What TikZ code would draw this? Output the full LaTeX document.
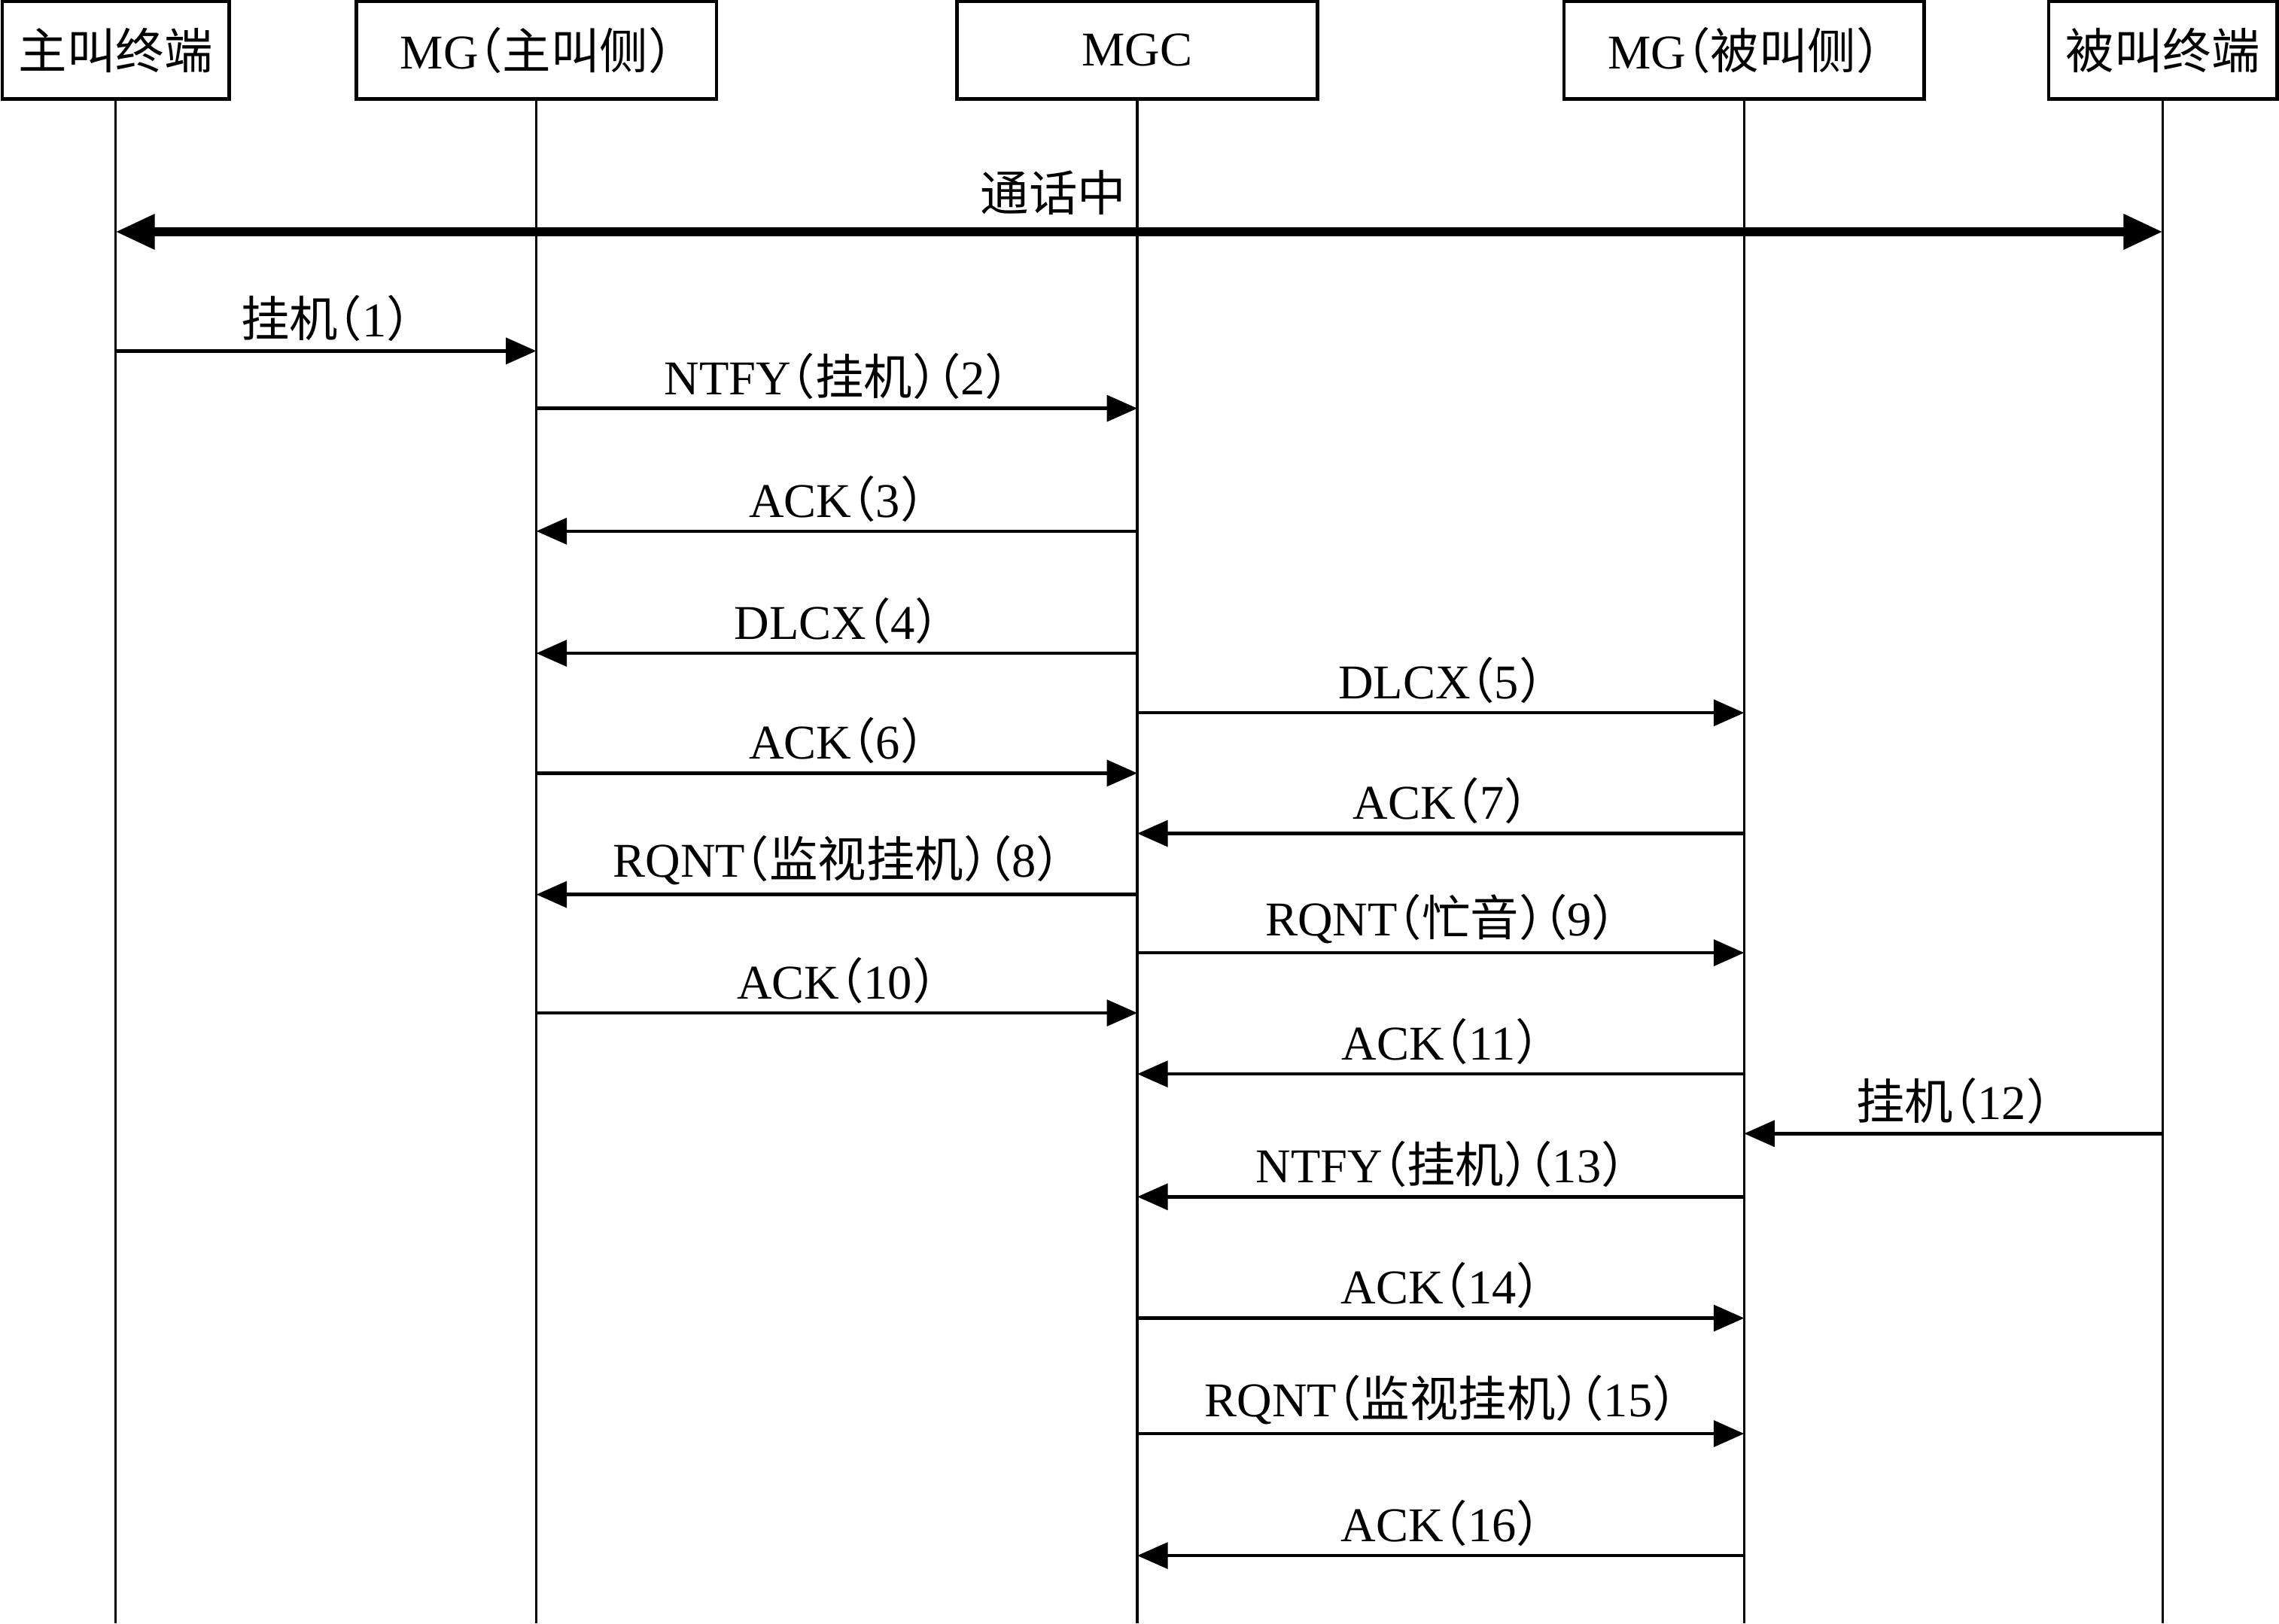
\documentclass[tikz,border=0pt]{standalone}
\usepackage{fontspec}
\setmainfont{Liberation Serif}
\newfontfamily\cjk[RawFeature=+halt]{Noto Sans CJK SC}
\usetikzlibrary{arrows.meta}
\newcommand{\zh}[1]{{\cjk #1}}

\begin{document}
\begin{tikzpicture}[
  font=\fontsize{9.5pt}{11pt}\selectfont,
  ent/.style={draw,line width=0.7pt,minimum height=0.67cm,inner sep=0pt},
  life/.style={line width=0.55pt},
  msg/.style={-{Triangle[length=2.1mm,width=1.8mm]},line width=0.65pt},
  talk/.style={{Triangle[length=2.7mm,width=2.3mm]}-{Triangle[length=2.7mm,width=2.3mm]},line width=1.7pt},
  lbl/.style={above,inner sep=1.5pt}
]
\useasboundingbox (0,0) rectangle (15.68,-11.17);

% participants
\node[ent,minimum width=1.56cm] (caller)   at (0.795,-0.345) {\zh{主叫终端}};
\node[ent,minimum width=2.48cm] (mgcaller) at (3.69,-0.345)  {MG\zh{（主叫侧）}};
\node[ent,minimum width=2.48cm] (mgc)      at (7.825,-0.345) {MGC};
\node[ent,minimum width=2.48cm] (mgcallee) at (12.0,-0.345)  {MG\zh{（被叫侧）}};
\node[ent,minimum width=1.57cm] (callee)   at (14.88,-0.345) {\zh{被叫终端}};

% lifelines
\foreach \p in {caller,mgcaller,mgc,mgcallee,callee}
  \draw[life] (\p.south) -- (\p.south |- 0,-11.17);

% messages
\draw[talk] (caller |- 0,-1.595) -- node[lbl,pos=0.458,inner sep=2.5pt]{\zh{通话中}} (callee |- 0,-1.595);
\draw[msg] (caller |- 0,-2.415) -- node[lbl]{\zh{挂机（}1\zh{）}} (mgcaller |- 0,-2.415);
\draw[msg] (mgcaller |- 0,-2.81) -- node[lbl]{NTFY\zh{（挂机）（}2\zh{）}} (mgc |- 0,-2.81);
\draw[msg] (mgc |- 0,-3.655) -- node[lbl]{ACK\zh{（}3\zh{）}} (mgcaller |- 0,-3.655);
\draw[msg] (mgc |- 0,-4.495) -- node[lbl]{DLCX\zh{（}4\zh{）}} (mgcaller |- 0,-4.495);
\draw[msg] (mgc |- 0,-4.905) -- node[lbl]{DLCX\zh{（}5\zh{）}} (mgcallee |- 0,-4.905);
\draw[msg] (mgcaller |- 0,-5.32) -- node[lbl]{ACK\zh{（}6\zh{）}} (mgc |- 0,-5.32);
\draw[msg] (mgcallee |- 0,-5.735) -- node[lbl]{ACK\zh{（}7\zh{）}} (mgc |- 0,-5.735);
\draw[msg] (mgc |- 0,-6.155) -- node[lbl]{RQNT\zh{（监视挂机）（}8\zh{）}} (mgcaller |- 0,-6.155);
\draw[msg] (mgc |- 0,-6.556) -- node[lbl]{RQNT\zh{（忙音）（}9\zh{）}} (mgcallee |- 0,-6.556);
\draw[msg] (mgcaller |- 0,-6.97) -- node[lbl]{ACK\zh{（}10\zh{）}} (mgc |- 0,-6.97);
\draw[msg] (mgcallee |- 0,-7.39) -- node[lbl]{ACK\zh{（}11\zh{）}} (mgc |- 0,-7.39);
\draw[msg] (callee |- 0,-7.80) -- node[lbl]{\zh{挂机（}12\zh{）}} (mgcallee |- 0,-7.80);
\draw[msg] (mgcallee |- 0,-8.235) -- node[lbl]{NTFY\zh{（挂机）（}13\zh{）}} (mgc |- 0,-8.235);
\draw[msg] (mgc |- 0,-9.07) -- node[lbl]{ACK\zh{（}14\zh{）}} (mgcallee |- 0,-9.07);
\draw[msg] (mgc |- 0,-9.865) -- node[lbl]{RQNT\zh{（监视挂机）（}15\zh{）}} (mgcallee |- 0,-9.865);
\draw[msg] (mgcallee |- 0,-10.704) -- node[lbl]{ACK\zh{（}16\zh{）}} (mgc |- 0,-10.704);
\end{tikzpicture}
\end{document}
